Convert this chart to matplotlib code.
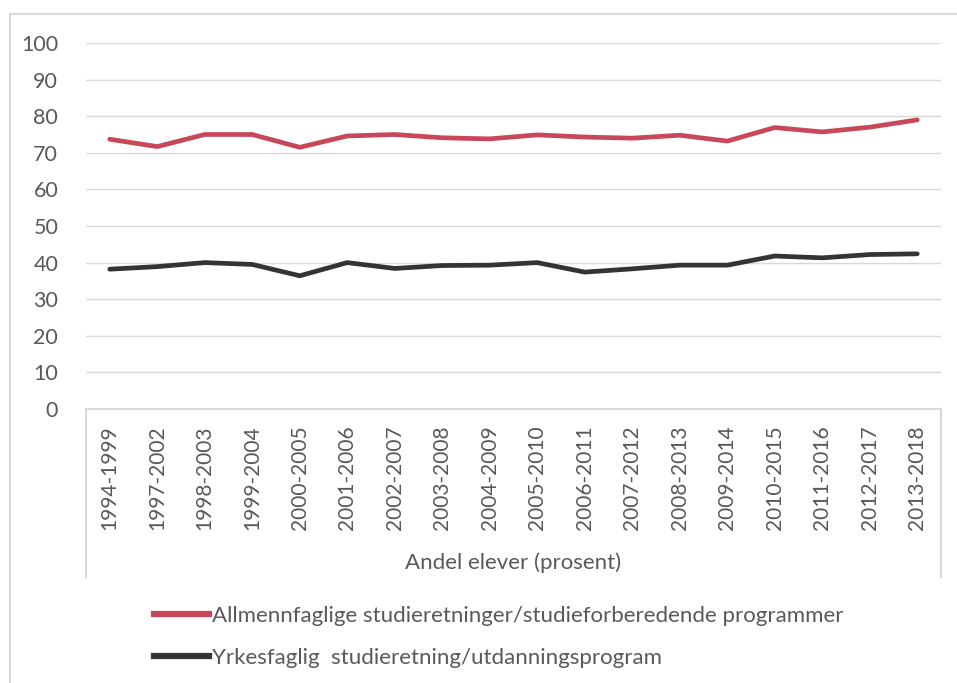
import matplotlib
matplotlib.use("Agg")
import matplotlib.pyplot as plt
from matplotlib.lines import Line2D
from matplotlib.patches import Rectangle

# Data
periods = ["1994-1999", "1997-2002", "1998-2003", "1999-2004", "2000-2005",
           "2001-2006", "2002-2007", "2003-2008", "2004-2009", "2005-2010",
           "2006-2011", "2007-2012", "2008-2013", "2009-2014", "2010-2015",
           "2011-2016", "2012-2017", "2013-2018"]
allmenn = [73.7, 71.7, 75.0, 75.0, 71.5, 74.6, 75.0, 74.1, 73.8, 74.9,
           74.3, 74.0, 74.8, 73.2, 76.9, 75.7, 77.0, 79.0]
yrkes = [38.2, 38.9, 40.0, 39.5, 36.4, 40.0, 38.4, 39.2, 39.3, 40.0,
         37.4, 38.3, 39.3, 39.3, 41.8, 41.3, 42.2, 42.4]
series_names = ["Allmennfaglige studieretninger/studieforberedende programmer",
                "Yrkesfaglig  studieretning/utdanningsprogram"]
series_colors = ["#C8485A", "#343434"]
yticks = list(range(0, 101, 10))

plt.rcParams['font.family'] = ['Lato', 'DejaVu Sans']
text_color = "#595959"
grid_color = "#D9D9D9"

W, H = 957, 683
fig = plt.figure(figsize=(W / 100, H / 100), dpi=100)

# outer chart border (cropped at right and bottom)
fig.patches.append(Rectangle((10 / W, -0.1), 1.2, (H - 14) / H + 0.1,
                             transform=fig.transFigure, fill=False,
                             edgecolor=grid_color, linewidth=1.5))

ax = fig.add_axes([86 / W, (H - 409) / H, (941 - 86) / W, (409 - 43) / H])

x = list(range(len(periods)))
for vals, name, col in zip([allmenn, yrkes], series_names, series_colors):
    ax.plot(x, vals, color=col, linewidth=3.4, solid_joinstyle='round',
            solid_capstyle='round', label=name)

ax.set_xlim(-0.5, len(periods) - 0.5)
ax.set_ylim(0, 100)
ax.set_yticks(yticks)
ax.grid(axis='y', color=grid_color, linewidth=1.0)
ax.set_axisbelow(True)
for s in ax.spines.values():
    s.set_visible(False)
ax.tick_params(axis='y', length=0, pad=20, labelsize=15.5, labelcolor=text_color)
ax.set_xticks(x)
ax.set_xticklabels(periods, rotation=90)
ax.tick_params(axis='x', length=0, pad=12, labelsize=15, labelcolor=text_color)

# category axis box lines (Excel style)
depth = (577 - 409) / (409 - 43)
for xa in (0, 1):
    ax.add_line(Line2D([xa, xa], [0, -depth], transform=ax.transAxes,
                       color=grid_color, linewidth=1.5, clip_on=False))
ax.add_line(Line2D([0, 1], [0, 0], transform=ax.transAxes,
                   color=grid_color, linewidth=1.5, clip_on=False))

fig.text(513 / W, (H - 563) / H, "Andel elever (prosent)", ha='center',
         va='center', fontsize=16, color=text_color)

handles = [Line2D([], [], color=c, linewidth=4.5) for c in series_colors]
fig.legend(handles, series_names, loc='upper left',
           bbox_to_anchor=(145 / W, (H - 597) / H), frameon=False,
           fontsize=16, labelcolor=text_color, handlelength=2.5,
           handletextpad=0.1, labelspacing=1.0, borderaxespad=0)

fig.savefig("out.png", dpi=100)
